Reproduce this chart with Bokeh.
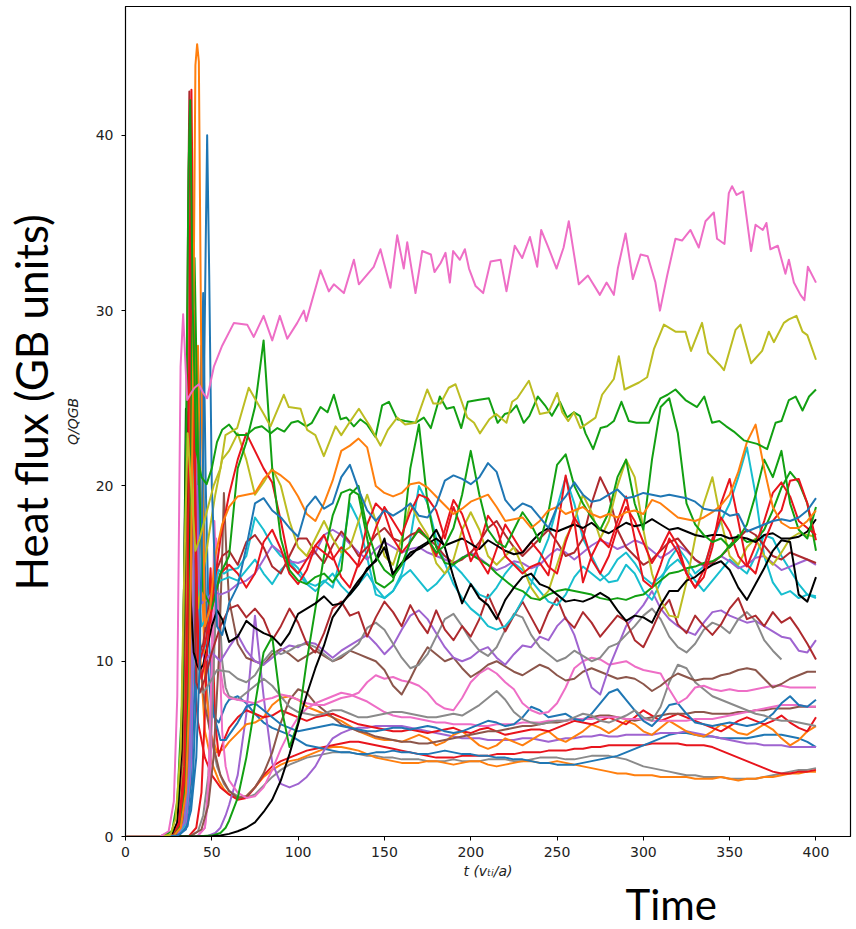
import math
from bokeh.plotting import figure
from bokeh.models import Range1d, FixedTicker, Title
from bokeh.embed import file_html
from bokeh.resources import INLINE

# ---------------- data ----------------
X_TICKS = [0, 50, 100, 150, 200, 250, 300, 350, 400]
Y_TICKS = [0, 10, 20, 30, 40]
LATE_T = list(range(60, 405, 5))   # common sampling of the saturated phase

BLUE = "#1f77b4"; ORANGE = "#ff7f0e"; GREEN = "#12a012"; RED = "#e8141c"
DARKRED = "#ad2a2e"; BROWN = "#8c564b"; PINK = "#ee6ec6"; GRAY = "#8a8a8a"
OLIVE = "#bcbd22"; CYAN = "#17becf"; PURPLE = "#9f64d0"; BLACK = "#000000"

# fully traced series
PINK_TOP_T = [0,20,25,28,30,31.9,33.4,35.7,38,40,
              42.5,45,47.3,51.2,56,62.8,70.5,74.3,80,85,
              89.4,93.7,99.5,103.3,104.7,113,117.8,120.7,126.5,132.3,
              135.2,143.8,147.7,153.5,157.4,161.2,163.2,168,171.9,176.9,
              179,182.5,185.4,187.9,189.8,193.7,196.6,199,202.8,207.2,
              211.5,217.3,220.7,225.5,229.8,234.3,238.5,240.8,245,249.7,
              253.8,256.8,262.6,267.9,274.8,278.7,282.9,285.2,289.7,293.9,
              298.4,302.5,307,309.6,313.8,318.6,322.4,327.3,332.1,336,
              340.8,342.7,347,349.5,351.4,354,357.8,362.4,365,369.2,
              371.3,373.6,377.9,382.3,384.3,387.2,391,393.3,395.3,400]
PINK_TOP_Q = [0,0,0.3,2,8,26.8,29.8,24.9,25.3,25.6,
              25.8,25.3,25.0,26.8,28.0,29.3,29.2,28.5,29.7,28.3,
              29.7,28.4,29.3,30.0,29.4,32.3,31.1,31.5,31.0,32.9,
              31.5,32.5,33.5,31.3,34.3,32.4,33.9,31.0,33.4,33.2,
              32.2,32.7,33.3,31.6,33.4,32.9,33.5,32.4,31.4,31.0,
              32.8,32.9,31.1,33.7,33.0,34.2,32.5,34.6,33.6,32.4,
              33.6,35.1,31.5,32.0,30.9,31.6,30.9,32.4,34.4,31.8,
              33.2,33.1,31.6,30.0,32.0,34.1,34.0,34.6,33.6,35.1,
              35.6,34.1,33.8,36.7,37.1,36.6,36.8,33.4,34.9,34.6,
              35.0,33.5,33.7,32.1,32.9,31.6,30.9,30.6,32.5,31.6]

OLIVE_TOP_T = [0,20,26,29,32,34,36,38,40.5,43,
               47,51,55,57.9,64.7,71.4,80.1,84,91.7,94.6,
               101.4,105.2,110,114.9,121.7,125,130.3,135.2,141.6,147.7,
               152,157.4,162,168,174.8,178.3,182.5,187.3,191.2,198,
               201.9,205.3,210.8,214.7,220.7,224,226.9,233.7,240,245,
               250.1,253,256.5,259.8,263.6,272.3,276.1,282.9,285.8,289.1,
               297.5,302.2,306.1,311.9,318.6,324.4,327.6,334,337.5,344.3,
               346.7,353.4,356.3,362.4,368.8,372.7,375.6,381.4,384.3,388.7,
               392.2,395,400]
OLIVE_TOP_Q = [0,0,0.1,1,5,15,23,20,16.3,17,
               18.5,20,21,22.9,23.3,25.6,24.1,23.4,25.2,24.5,
               24.4,23.2,22.9,21.7,23.4,22.9,23.7,24.4,23.4,22.3,
               23.2,23.9,23.5,23.6,25.5,24.7,24.7,25.6,25.8,23.9,
               23.6,23.0,23.8,24.1,23.6,24.8,25.0,26.0,24.1,24.2,
               25.3,24.2,23.7,24.2,23.3,23.9,25.2,26.1,27.4,25.5,
               25.9,26.2,27.8,29.2,28.8,28.8,27.7,29.3,27.6,26.9,
               26.6,28.9,29.2,27.0,27.7,28.8,28.2,29.3,29.5,29.7,
               28.8,28.6,27.2]

GREEN_TOP_T = [0,20,27,30,33,35,36.5,37.5,39,41,
               44,47,50,53,56,60,64.7,70,75,79,
               84,88,92,96,100,104.7,108,113,117,120.7,
               124.6,128,132.3,136,140,144.8,148.7,152.6,157.4,162,
               168,172.8,176.9,182.1,186,190.2,194.5,198.3,204,210.5,
               215.6,219.7,223,226.5,230.7,234,238.9,243,247,251.6,
               255.8,259.8,263.2,266.5,270.9,275.2,279,282.9,287.3,291.6,
               296,303.2,306,309.9,314,318.6,324.4,331.1,335.3,339.8,
               344,348,352.4,358.2,365.9,371.7,376.6,380,384.3,388.2,
               392.2,396,400]
GREEN_TOP_Q = [0,0,0.3,2,8,22,38,42,30,22,
               20.5,20.1,21,22.5,23.2,23.5,22.9,22.9,23.3,23.4,
               23.0,23.3,23.1,23.6,23.7,23.4,23.6,24.5,24.2,25.2,
               23.8,23.9,23.4,23.8,23.5,22.8,24.6,24.8,23.8,23.7,
               23.6,23.9,23.3,25.1,24.4,24.5,23.3,24.8,24.9,25.0,
               23.6,24.1,24.2,24.6,23.6,24.0,25.1,24.6,24.0,24.8,
               23.9,24.2,24.0,23.0,22.1,23.3,23.4,23.7,24.8,23.7,
               23.6,23.6,24.2,25.0,25.2,25.5,24.9,24.5,25.1,23.6,
               23.7,23.4,23.1,22.6,22.4,22.1,23.6,23.7,24.9,25.1,
               24.3,25.1,25.5]

# series = early transient (t < 60) + saturated phase sampled on LATE_T
BLUE_A_ET = [0,20,30,35,38,41,43,45,46.5,47.3,48.5,50,53,56]
BLUE_A_EQ = [0,0,0.05,0.4,1.5,4.5,10,22,34,40,32,20,12,11.5]
BLUE_A_LQ = [13.3,14.3,16.5,19.0,19.3,18.6,18.2,17.6,17.1,18.8,
             19.4,18.7,19.0,20.5,21.2,19.8,18.6,18.0,18.6,18.3,
             18.6,19.0,18.3,18.2,18.9,20.3,20.6,20.4,20.1,20.5,
             21.3,20.8,19.2,18.6,19.0,18.8,18.2,17.6,18.8,19.4,
             20.2,19.5,19.1,19.2,19.5,19.8,19.3,19.4,19.6,19.5,
             19.4,19.5,19.4,19.3,19.1,18.7,18.6,18.6,18.3,18.4,
             17.4,17.6,17.8,18.0,18.1,18.0,18.2,18.6,19.3]

ORANGE_A_ET = [0,20,28,32,35,37,39,40.5,41.5,42.5,44,46,49,52,56]
ORANGE_A_EQ = [0,0,0.05,0.5,2.5,8,25,44,45.2,44.2,26,12,13,16,17.8]
ORANGE_A_LQ = [18.8,19.4,19.5,19.6,20.4,20.9,20.6,20.2,19.4,18.4,
               18.0,19.0,20.3,22.0,22.3,22.7,22.2,20.0,19.6,19.4,
               19.6,20.1,20.2,19.9,19.4,18.9,18.4,18.7,19.1,19.3,
               19.5,18.8,18.0,18.1,18.2,17.6,18.0,18.6,18.8,18.4,
               18.6,18.8,18.4,18.2,18.4,18.2,18.5,18.6,18.4,19.2,
               19.0,18.6,18.2,18.1,18.0,18.2,18.5,18.9,19.5,20.8,
               22.5,23.5,21.0,18.8,17.9,17.6,17.6,18.0,18.6]

GREEN_B_ET = [0,20,28,32,35,37,38.5,40,42,45,50,55]
GREEN_B_EQ = [0,0,0.05,0.6,3,10,28,33,22,14,13,15]
GREEN_B_LQ = [16.0,21.0,22.5,24.5,28.3,21.0,17.0,15.2,14.6,14.4,
              14.8,15.0,14.5,15.2,19.5,20.0,17.5,16.0,15.2,14.8,
              15.5,16.8,17.5,17.0,16.2,16.6,17.6,19.5,22.0,19.5,
              17.5,16.8,16.5,17.5,18.5,17.8,16.8,18.5,21.2,21.8,
              20.0,19.0,18.2,17.5,18.5,20.5,21.5,19.0,17.5,21.5,
              24.5,25.0,23.0,19.0,17.8,17.2,16.8,17.0,16.5,17.0,
              17.8,19.5,21.5,20.5,22.0,19.0,17.5,17.0,18.8]

GREEN_C_ET = [0,40,50,55,58]
GREEN_C_EQ = [0,0,0.05,0.2,0.5]
GREEN_C_LQ = [0.9,2.2,4.5,7.5,10.5,11.4,7.5,5.1,6.5,10.0,
              13.0,16.0,18.3,19.6,19.8,19.5,17.0,14.5,14.2,14.6,
              16.5,21.0,23.5,19.0,16.5,15.6,15.5,15.9,16.1,15.8,
              15.5,15.0,14.6,14.2,14.0,13.6,13.5,13.8,14.0,14.1,
              14.0,13.9,13.8,13.6,13.5,13.6,13.5,13.7,13.8,14.2,
              14.6,15.0,15.1,15.3,15.4,15.6,15.7,16.0,16.6,17.2,
              16.8,16.9,17.5,18.6,19.9,20.8,20.2,19.0,16.3]

RED_A_ET = [0,20,28,31,34,36,37.3,38.2,39,40.5,42,44,47,51,55]
RED_A_EQ = [0,0,0.1,0.8,4,14,34,42.6,35,18,10,9,10.5,14,17]
RED_A_LQ = [19.5,21.5,23.0,22.0,21.0,20.2,18.0,15.5,15.0,15.8,
            16.6,16.2,15.8,16.5,16.0,15.4,16.2,17.6,18.8,18.0,
            17.2,18.5,19.5,19.3,18.6,17.0,18.8,17.5,15.7,16.6,
            18.3,17.6,16.0,15.5,15.0,15.4,15.6,14.9,17.5,20.6,
            18.0,14.5,16.0,17.0,16.5,18.0,19.4,17.0,14.6,14.2,
            15.5,17.0,16.2,15.0,14.2,14.8,16.5,19.0,20.4,18.0,
            15.5,15.0,16.8,18.0,18.6,20.3,20.4,19.0,16.9]

RED_B_ET = [0,20,29,32,35,37,38.5,40,41.5,43,46,50,55]
RED_B_EQ = [0,0,0.1,0.8,4,13,30,22,13,10,11,13,15]
RED_B_LQ = [15.5,15.0,14.2,15.0,16.8,17.5,16.4,15.0,14.4,15.2,
            16.6,17.2,16.0,14.8,14.2,15.6,17.8,19.0,18.5,17.0,
            16.2,16.8,17.6,17.0,16.0,17.5,19.2,18.4,17.0,15.8,
            15.0,16.4,17.8,17.0,16.2,16.8,16.2,15.4,15.0,16.8,
            18.2,17.4,15.8,15.0,16.0,17.6,18.8,18.0,16.8,15.6,
            16.4,17.4,16.6,15.0,14.2,15.2,17.0,18.2,17.4,16.0,
            15.4,16.6,18.0,19.6,20.2,19.4,18.0,17.6,17.2]

DARKRED_A_ET = [0,20,27,30,33,35,36.3,37,38,39.5,41,43,46,50,55]
DARKRED_A_EQ = [0,0,0.1,0.8,4,15,36,42.5,33,16,8.8,8.2,9,10.5,12]
DARKRED_A_LQ = [13.0,13.2,12.5,13.0,12.4,11.2,12.0,13.0,12.2,11.0,
                10.5,11.6,13.0,13.4,12.6,12.8,11.4,12.5,13.4,12.8,
                12.0,13.2,12.3,11.6,12.9,11.8,11.2,12.0,11.4,12.4,
                13.8,12.7,11.7,12.6,13.4,12.5,11.6,12.8,13.6,12.4,
                11.9,12.8,12.2,11.4,12.0,12.6,12.3,11.2,10.8,11.8,
                12.9,13.5,12.1,11.6,12.6,12.0,11.5,12.1,13.0,13.6,
                12.4,12.6,12.0,12.8,12.2,12.5,11.8,11.0,10.1]

DARKRED_B_ET = [0,20,28,31,34,36.5,38,39.5,41,43,45,48,52,56]
DARKRED_B_EQ = [0,0,0.1,0.7,3.5,14,33,24,12,10.5,11,13,15,16]
DARKRED_B_LQ = [16.3,15.5,16.8,17.2,16.5,15.4,15.0,16.0,17.0,17.0,
                16.2,15.6,16.6,17.4,16.8,16.0,16.5,17.2,17.6,17.0,
                16.8,17.2,17.4,17.0,16.6,16.0,15.6,15.8,16.2,16.8,
                17.6,18.0,17.2,16.5,16.0,16.5,17.0,17.5,16.8,16.0,
                16.2,17.0,19.0,20.5,19.5,17.5,16.5,16.0,15.5,15.8,
                16.3,16.8,17.0,16.4,15.8,15.5,15.6,16.0,16.5,17.0,
                17.5,17.2,16.6,16.0,15.8,16.2,16.0,15.8,15.6]

CYAN_A_ET = [0,20,28,32,35,37,38.5,40,42,44,47,50,54,57]
CYAN_A_EQ = [0,0,0.05,0.5,3,10,24,19,12,10.5,11,13.5,15.2,15.0]
CYAN_A_LQ = [15.2,15.3,16.0,18.2,17.5,16.6,16.0,15.8,15.3,14.5,
             14.3,14.6,14.2,16.0,19.0,18.0,15.9,13.8,13.6,14.0,
             15.0,17.0,20.0,19.0,17.0,15.6,14.4,13.6,13.0,12.6,
             12.0,11.8,12.0,12.6,13.5,14.4,15.8,17.0,18.8,20.5,
             19.0,17.0,16.0,15.0,14.5,14.6,15.5,15.0,14.0,13.5,
             14.5,15.8,16.5,15.8,15.0,15.4,16.8,18.0,19.0,20.5,
             22.2,19.5,16.0,14.5,13.8,14.0,13.6,13.8,13.7]

CYAN_B_ET = [0,20,30,34,37,39,40.5,42,44,47,51,55]
CYAN_B_EQ = [0,0,0.05,0.6,3.5,11,20,14,12,12.5,14,14.6]
CYAN_B_LQ = [14.8,14.6,15.2,15.8,15.0,14.4,15.2,15.7,15.0,14.4,
             14.0,14.5,15.0,14.3,13.8,14.4,15.0,14.2,13.6,14.0,
             14.8,15.2,14.6,14.0,14.4,15.0,15.5,15.0,14.4,13.8,
             13.6,14.2,15.0,15.6,15.2,14.6,14.0,13.4,13.2,13.8,
             14.8,15.4,15.0,14.6,15.0,15.8,16.2,15.6,14.8,14.4,
             14.8,15.4,15.8,15.2,14.6,14.0,14.6,15.2,15.8,15.4,
             15.0,16.0,17.2,17.0,16.0,15.2,14.4,13.8,13.6]

OLIVE_B_ET = [0,20,28,31,34,35.5,37,39,42,45,48,52,56]
OLIVE_B_EQ = [0,0,0.1,0.9,4.5,12,26,20,13,15,17,19.5,21.5]
OLIVE_B_LQ = [22.0,23.0,21.5,19.5,20.2,21.0,20.0,18.0,16.5,16.0,
              17.0,18.0,17.0,16.2,16.5,18.0,19.5,18.0,16.0,15.5,
              17.0,19.0,18.0,17.2,15.6,15.0,15.8,17.5,18.5,17.5,
              16.0,15.5,16.0,16.5,15.4,14.2,13.5,14.0,15.5,17.0,
              18.0,19.5,18.5,17.0,18.0,20.0,21.5,20.5,17.5,15.0,
              13.5,12.6,12.5,14.5,17.0,19.0,20.5,18.0,16.0,15.5,
              16.5,17.0,16.0,15.5,16.2,17.0,17.3,17.2,17.1]

PURPLE_A_ET = [0,20,30,34,37,39,40.5,42,44,47,51,55]
PURPLE_A_EQ = [0,0,0.05,0.8,4,12,22,15,13.3,13.5,14.0,13.8]
PURPLE_A_LQ = [14.0,14.4,14.6,15.0,15.8,16.6,16.2,15.7,15.6,15.8,
               16.2,17.2,17.5,17.2,16.7,16.2,15.8,16.4,16.8,16.5,
               16.2,16.4,16.5,16.2,16.0,15.8,15.6,15.9,16.2,15.9,
               15.5,15.2,15.4,15.7,15.6,15.3,15.5,16.0,16.4,16.2,
               15.8,16.2,16.6,16.9,16.7,16.4,16.6,16.9,16.7,16.3,
               15.9,16.2,16.6,16.3,15.8,15.4,15.6,16.0,15.7,15.3,
               15.5,15.9,16.0,15.6,15.2,15.4,15.6,15.8,15.5]

PURPLE_B_ET = [0,40,48,52,55,58]
PURPLE_B_EQ = [0,0,0.05,0.2,0.5,1.2]
PURPLE_B_LQ = [1.8,3.5,7.0,12.6,8.0,4.2,3.0,2.8,3.0,3.4,
               4.0,4.9,5.6,5.9,6.1,6.2,6.2,6.3,6.3,6.3,
               6.3,6.2,6.1,6.0,5.9,5.8,5.7,5.6,5.6,5.6,
               5.5,5.5,5.5,5.5,5.6,5.6,5.5,5.4,5.5,5.6,
               5.6,5.7,5.7,5.8,5.7,5.7,5.8,5.8,5.8,5.8,
               5.9,5.9,5.9,6.0,5.9,5.8,5.7,5.6,5.5,5.4,
               5.3,5.3,5.2,5.2,5.2,5.1,5.1,5.1,5.1]

PURPLE_C_ET = [0,20,30,35,38,40,41.5,43,46,50,55]
PURPLE_C_EQ = [0,0,0.05,0.7,4,14,20,11,10,10.5,10.0]
PURPLE_C_LQ = [10.8,11.5,10.6,10.0,9.8,10.2,10.6,10.9,10.8,11.1,
               11.0,10.6,10.2,10.6,10.9,11.2,11.5,11.0,10.4,10.9,
               11.8,12.6,12.9,12.4,11.6,10.8,10.2,10.0,10.2,10.6,
               10.8,10.2,9.8,10.4,10.9,10.8,11.4,11.2,12.0,12.5,
               11.5,10.0,8.5,8.1,9.6,10.8,12.0,12.6,13.2,14.0,
               13.0,12.4,12.0,11.7,11.5,12.2,12.8,12.9,12.6,12.4,
               12.2,12.3,12.0,11.7,11.4,11.3,10.6,10.5,11.2]

BROWN_A_ET = [0,30,38,44,48,51,54,56,57,58.5]
BROWN_A_EQ = [0,0,0.05,0.4,1.8,4.5,10,16,19.6,16]
BROWN_A_LQ = [13.5,11.0,10.2,10.0,9.8,10.4,10.7,10.4,10.0,10.3,
              10.6,10.3,10.0,10.2,10.6,10.4,10.2,10.0,9.5,8.6,
              8.1,9.0,10.0,10.8,10.4,10.0,10.2,9.6,9.1,9.4,
              9.8,10.0,9.7,9.4,9.2,9.5,9.8,9.6,9.2,8.9,
              9.0,9.4,9.6,9.4,9.2,9.0,9.1,9.0,8.7,8.3,
              8.6,9.0,9.3,9.1,8.9,9.0,9.0,9.2,9.3,9.5,
              9.6,9.5,9.0,8.5,8.7,9.0,9.2,9.4,9.4]

BROWN_B_ET = [0,20,29,33,36,38,39.5,41,43,46,50,55]
BROWN_B_EQ = [0,0,0.05,0.6,3.5,12,28,18,10,7.5,5.5,3.5]
BROWN_B_LQ = [2.6,2.2,2.3,2.8,3.6,4.8,6.5,7.8,8.4,8.2,
              7.6,7.2,6.8,6.4,6.2,6.0,5.9,5.7,5.6,5.5,
              5.4,5.4,5.3,5.3,5.4,5.5,5.6,5.7,5.8,5.9,
              6.0,6.0,6.1,6.2,6.3,6.3,6.4,6.5,6.5,6.6,
              6.7,6.7,6.8,6.9,6.9,6.8,6.7,6.6,6.7,6.8,
              6.9,7.0,7.0,7.0,7.1,7.1,7.0,7.0,7.0,7.1,
              7.1,7.2,7.2,7.3,7.3,7.3,7.4,7.4,7.4]

GRAY_A_ET = [0,20,28,32,35,36.7,37.5,38.5,40,42,45,49,53]
GRAY_A_EQ = [0,0,0.1,0.9,5,18,29.6,22,12,8.5,8.2,8.8,9.5]
GRAY_A_LQ = [9.4,9.0,8.8,9.2,10.0,10.6,10.4,10.6,10.9,11.0,
             10.8,10.4,10.0,10.3,10.6,11.0,11.9,12.2,11.8,11.0,
             10.2,9.6,9.8,10.4,11.4,12.4,12.7,12.0,11.2,10.6,
             10.3,10.8,11.8,12.7,12.5,11.5,10.8,10.4,10.0,10.2,
             10.6,10.3,10.0,10.2,10.8,11.0,11.5,12.0,12.6,13.0,
             12.4,11.4,10.8,10.5,11.0,11.8,12.2,12.0,11.6,12.4,
             12.8,12.3,11.2,10.6,10.1]

GRAY_B_ET = [0,30,38,42,45,48,50,52,53,54.5,56,58]
GRAY_B_EQ = [0,0,0.05,0.3,1.2,3.5,7,12,15,13,10,8.5]
GRAY_B_LQ = [8.0,7.8,8.2,8.6,9.0,8.6,8.0,7.4,7.1,7.0,
             6.9,7.0,7.2,7.2,7.0,6.8,6.8,6.9,7.0,7.1,
             7.1,7.0,6.9,6.8,6.8,6.9,7.0,6.9,7.2,7.5,
             7.9,8.3,7.8,7.1,6.7,6.5,6.4,6.5,6.6,6.6,
             6.8,7.0,6.9,6.6,6.5,6.7,6.9,7.2,6.8,6.6,
             7.4,8.8,9.8,9.6,8.8,8.4,8.0,7.8,7.6,7.4,
             7.2,7.0,6.9,6.7,6.6,6.6,6.5,6.4,6.3]

GRAY_C_ET = [0,20,30,34,37,39,41,42.5,44,46,49,53,57]
GRAY_C_EQ = [0,0,0.05,0.6,3,10,20,25,18,10,6,4,3]
GRAY_C_LQ = [2.6,2.3,2.2,2.4,2.9,3.4,3.8,4.1,4.3,4.5,
             4.6,4.7,4.8,4.8,4.8,4.7,4.6,4.6,4.5,4.5,
             4.4,4.4,4.4,4.3,4.3,4.3,4.4,4.3,4.3,4.3,
             4.4,4.4,4.4,4.3,4.3,4.4,4.5,4.5,4.5,4.4,
             4.4,4.5,4.6,4.6,4.6,4.5,4.4,4.2,4.0,3.9,
             3.8,3.7,3.6,3.5,3.5,3.4,3.4,3.4,3.3,3.3,
             3.3,3.3,3.4,3.5,3.6,3.7,3.8,3.8,3.9]

ORANGE_LOW_ET = [0,20,28,32,35,37,38.5,40,41.5,43.5,46,50,54,57]
ORANGE_LOW_EQ = [0,0,0.05,0.5,3,11,24,30,20,10,6,4.2,3.2,2.7]
ORANGE_LOW_LQ = [2.4,2.2,2.3,2.8,3.4,3.8,4.1,4.3,4.4,4.6,
                 4.8,5.0,5.1,5.1,5.0,4.9,4.7,4.5,4.4,4.3,
                 4.2,4.2,4.2,4.3,4.3,4.2,4.1,4.2,4.3,4.3,
                 4.1,4.0,4.1,4.2,4.3,4.3,4.2,4.2,4.3,4.2,
                 4.1,4.0,3.9,3.8,3.7,3.6,3.6,3.5,3.5,3.5,
                 3.4,3.4,3.4,3.4,3.3,3.3,3.3,3.4,3.3,3.2,
                 3.3,3.3,3.4,3.4,3.5,3.6,3.6,3.7,3.7]

RED_LOW_ET = [0,20,27,31,33.5,35,36,37,39,42,46,50,55]
RED_LOW_EQ = [0,0,0.05,0.8,5,15,24.2,18,10,6.5,4.5,3.5,2.8]
RED_LOW_LQ = [2.4,2.1,2.2,2.8,3.5,4.0,4.3,4.5,4.7,4.9,
              5.0,5.1,5.2,5.3,5.4,5.4,5.3,5.2,5.1,5.0,
              4.9,4.8,4.7,4.6,4.5,4.5,4.5,4.6,4.6,4.6,
              4.6,4.7,4.7,4.7,4.8,4.8,4.8,4.9,4.9,4.9,
              5.0,5.0,5.1,5.1,5.2,5.2,5.2,5.2,5.2,5.3,
              5.3,5.3,5.3,5.2,5.2,5.2,5.1,4.9,4.7,4.5,
              4.3,4.1,3.9,3.7,3.6,3.6,3.7,3.7,3.8]

BLUE_LOW_ET = [0,20,30,35,38,40.5,42.5,44,45.5,47.5,50,54,58]
BLUE_LOW_EQ = [0,0,0.05,0.6,3,10,22,28,18,10,7,6.5,7.5]
BLUE_LOW_LQ = [7.8,8.0,7.6,7.0,6.5,6.2,6.0,5.8,5.5,5.2,
               5.1,5.0,4.9,4.8,4.8,4.7,4.7,4.8,4.8,4.9,
               4.8,4.8,4.7,4.7,4.8,4.9,4.8,4.7,4.7,4.6,
               4.6,4.5,4.5,4.4,4.4,4.3,4.2,4.2,4.1,4.1,
               4.1,4.2,4.3,4.4,4.5,4.6,4.8,5.0,5.2,5.4,
               5.6,5.8,5.9,5.9,5.8,5.7,5.7,5.6,5.6,5.6,
               5.6,5.7,5.8,5.8,5.8,5.7,5.6,5.4,5.1]

BLUE_MID_ET = [0,20,31,36,39,41.5,43.5,45,46.5,48.5,51,55,58]
BLUE_MID_EQ = [0,0,0.05,0.6,3,10,23,31,20,11,7,5.5,5.5]
BLUE_MID_LQ = [5.8,6.5,7.4,7.6,7.2,6.8,6.4,6.2,6.0,6.1,
               6.2,6.3,6.4,6.3,6.2,6.1,6.0,6.0,6.1,6.2,
               6.2,6.1,6.2,6.3,6.2,6.0,5.9,6.0,6.2,6.4,
               6.6,6.5,6.3,6.4,6.8,7.4,7.2,6.8,6.9,7.0,
               6.7,6.6,7.0,7.6,8.2,8.4,7.8,7.2,6.6,6.3,
               6.8,7.5,7.6,7.0,6.5,6.4,6.3,6.4,6.5,6.4,
               6.3,6.4,6.6,7.0,7.6,8.0,7.5,7.4,7.8]

RED_MID_ET = [0,30,37,41,44,46,48,49.3,50.5,52,54,57]
RED_MID_EQ = [0,0,0.05,0.5,2.5,7,13,15.3,11,6.5,4.6,5.5]
RED_MID_LQ = [6.2,6.8,7.2,7.0,6.8,6.9,7.2,7.0,6.8,6.6,
              6.8,6.9,7.0,6.8,6.6,6.4,6.3,6.2,6.1,6.0,
              6.0,6.1,6.0,5.9,6.0,6.1,6.2,6.0,5.9,6.1,
              6.2,6.0,5.8,5.9,6.0,6.1,6.1,6.0,6.2,6.4,
              6.6,6.5,6.4,6.6,6.8,6.6,6.4,6.8,7.2,6.9,
              6.6,6.8,7.0,6.8,6.6,6.4,6.2,6.0,6.3,6.6,
              6.8,6.6,6.4,6.6,6.9,6.5,6.2,6.0,6.8]

ORANGE_MID_ET = [0,20,30,34,37,39,40.5,42,43.5,46,49,53,57]
ORANGE_MID_EQ = [0,0,0.05,0.6,3,10,20,28,18,9,6,4.8,5.0]
ORANGE_MID_LQ = [5.4,5.9,6.4,6.5,6.8,7.5,7.9,8.0,7.8,7.4,
                 7.2,7.0,6.8,6.6,6.3,6.0,5.8,5.6,5.5,5.5,
                 5.4,5.6,5.8,5.6,5.2,5.4,5.8,6.0,5.6,5.2,
                 5.0,5.2,5.6,5.4,5.2,5.5,5.8,6.0,5.6,5.4,
                 5.7,6.0,6.4,6.2,5.9,6.2,6.6,6.4,6.0,5.8,
                 6.2,6.6,6.3,6.0,5.8,5.7,6.0,6.4,6.2,5.9,
                 5.8,6.1,6.4,6.1,5.6,5.2,5.5,6.0,6.3]

PINK_MID_ET = [0,35,42,46,48,50,51.5,53,55,57]
PINK_MID_EQ = [0,0,0.05,0.5,3,10,18,14,9.5,8.2]
PINK_MID_LQ = [7.9,7.8,7.7,7.6,7.8,7.9,8.1,8.0,7.8,7.6,
               7.5,7.5,7.7,7.9,8.0,8.2,8.8,9.2,9.0,9.1,
               8.9,8.8,8.6,8.2,7.6,7.3,7.2,7.9,8.8,9.3,
               9.6,9.3,8.8,8.4,7.6,7.2,7.0,7.1,7.6,8.5,
               9.6,10.0,10.2,10.1,9.8,9.9,10.0,9.7,9.5,9.4,
               9.3,8.4,7.6,7.9,8.5,8.6,8.4,8.3,8.4,8.3,
               8.3,8.4,8.5,8.6,8.6,8.5,8.5,8.5,8.5]

PINK_LOW_ET = [0,35,42,46,49,51,52.5,54,56,58]
PINK_LOW_EQ = [0,0,0.05,0.5,3,10,17,12,6,4]
PINK_LOW_LQ = [3.2,2.5,2.2,2.3,2.8,3.8,5.0,6.0,6.8,7.3,
               7.6,7.8,8.0,8.2,8.1,7.9,7.7,7.4,7.1,6.9,
               6.8,6.8,6.7,6.6,6.5,6.5,6.4,6.4,6.4,6.3,
               6.3,6.4,6.4,6.4,6.5,6.5,6.5,6.6,6.6,6.6,
               6.7,6.7,6.7,6.8,6.8,6.8,6.7,6.7,6.7,6.6,
               6.6,6.6,6.6,6.6,6.7,6.7,6.7,6.8,6.9,7.0,
               7.1,7.2,7.3,7.4,7.5,7.5,7.5,7.4,7.4]

BLACK_A_ET = [0,20,27,30,32.5,34,35,36,37.5,39.5,41.5,43,45,47.3,50,53.1,56]
BLACK_A_EQ = [0,0,0.1,0.8,5,15,24.4,20,14,10.5,9.8,9.5,9.8,10.8,12.0,12.9,12.4]
BLACK_A_LQ = [11.1,11.4,12.3,11.9,11.6,11.4,10.9,11.6,12.7,13.0,
              13.3,13.7,13.2,13.3,13.8,14.4,15.3,15.7,16.5,15.0,
              15.6,16.0,16.5,16.8,17.5,16.5,14.8,13.3,14.4,13.6,
              13.2,12.4,13.5,14.2,14.8,15.0,14.4,14.2,13.8,13.4,
              13.5,13.4,13.6,13.9,13.6,12.9,12.3,12.6,12.5,12.2,
              13.2,14.0,14.0,14.6,14.8,15.2,15.5,15.7,15.2,14.2,
              13.5,14.4,15.3,16.3,16.9,16.8,13.8,13.4,14.8]

BLACK_B_ET = [0,40,50,55]
BLACK_B_EQ = [0,0,0.02,0.06]
BLACK_B_LQ = [0.15,0.3,0.5,0.8,1.4,2.1,3.2,4.7,6.4,8.1,
              9.6,10.9,12.5,13.2,13.9,14.6,15.2,15.8,17.0,14.8,
              15.6,16.2,16.4,16.7,17.0,16.6,16.8,17.0,16.7,16.4,
              16.9,16.6,16.3,16.1,16.2,16.8,17.3,17.6,17.4,17.6,
              17.8,17.6,17.9,17.5,17.3,17.6,17.9,17.7,17.8,18.1,
              17.8,17.5,17.6,17.4,17.2,17.1,17.2,17.2,17.0,17.1,
              17.0,16.8,17.2,17.3,17.0,17.0,17.1,17.4,18.1]

# ---------------- assemble ----------------
def series(et, eq, lq):
    n = min(len(lq), len(LATE_T))
    return list(et) + LATE_T[:n], list(eq) + list(lq[:n])

SERIES = [
    (GRAY_C_ET, GRAY_C_EQ, GRAY_C_LQ, GRAY),
    (ORANGE_LOW_ET, ORANGE_LOW_EQ, ORANGE_LOW_LQ, ORANGE),
    (RED_LOW_ET, RED_LOW_EQ, RED_LOW_LQ, RED),
    (BLUE_LOW_ET, BLUE_LOW_EQ, BLUE_LOW_LQ, BLUE),
    (PURPLE_B_ET, PURPLE_B_EQ, PURPLE_B_LQ, PURPLE),
    (ORANGE_MID_ET, ORANGE_MID_EQ, ORANGE_MID_LQ, ORANGE),
    (RED_MID_ET, RED_MID_EQ, RED_MID_LQ, RED),
    (BROWN_B_ET, BROWN_B_EQ, BROWN_B_LQ, BROWN),
    (PINK_LOW_ET, PINK_LOW_EQ, PINK_LOW_LQ, PINK),
    (BLUE_MID_ET, BLUE_MID_EQ, BLUE_MID_LQ, BLUE),
    (GRAY_B_ET, GRAY_B_EQ, GRAY_B_LQ, GRAY),
    (PINK_MID_ET, PINK_MID_EQ, PINK_MID_LQ, PINK),
    (BROWN_A_ET, BROWN_A_EQ, BROWN_A_LQ, BROWN),
    (PURPLE_C_ET, PURPLE_C_EQ, PURPLE_C_LQ, PURPLE),
    (GRAY_A_ET, GRAY_A_EQ, GRAY_A_LQ, GRAY),
    (DARKRED_A_ET, DARKRED_A_EQ, DARKRED_A_LQ, DARKRED),
    (CYAN_B_ET, CYAN_B_EQ, CYAN_B_LQ, CYAN),
    (CYAN_A_ET, CYAN_A_EQ, CYAN_A_LQ, CYAN),
    (PURPLE_A_ET, PURPLE_A_EQ, PURPLE_A_LQ, PURPLE),
    (DARKRED_B_ET, DARKRED_B_EQ, DARKRED_B_LQ, DARKRED),
    (OLIVE_B_ET, OLIVE_B_EQ, OLIVE_B_LQ, OLIVE),
    (GREEN_C_ET, GREEN_C_EQ, GREEN_C_LQ, GREEN),
    (RED_B_ET, RED_B_EQ, RED_B_LQ, RED),
    (BLACK_B_ET, BLACK_B_EQ, BLACK_B_LQ, BLACK),
    (BLACK_A_ET, BLACK_A_EQ, BLACK_A_LQ, BLACK),
    (RED_A_ET, RED_A_EQ, RED_A_LQ, RED),
    (GREEN_B_ET, GREEN_B_EQ, GREEN_B_LQ, GREEN),
    (ORANGE_A_ET, ORANGE_A_EQ, ORANGE_A_LQ, ORANGE),
    (BLUE_A_ET, BLUE_A_EQ, BLUE_A_LQ, BLUE),
]
FULL = [
    (GREEN_TOP_T, GREEN_TOP_Q, GREEN),
    (OLIVE_TOP_T, OLIVE_TOP_Q, OLIVE),
    (PINK_TOP_T, PINK_TOP_Q, PINK),
]

p = figure(width=856, height=929, x_range=Range1d(0, 420), y_range=Range1d(0, 47.35),
           output_backend="svg", toolbar_location=None,
           min_border_left=125, min_border_right=6, min_border_top=6, min_border_bottom=93)
p.background_fill_color = "white"
p.border_fill_color = "white"
p.xgrid.visible = False
p.ygrid.visible = False
p.outline_line_color = "black"
p.outline_line_width = 1.2
p.outline_line_alpha = 1.0

for ax, ticks in ((p.xaxis, X_TICKS), (p.yaxis, Y_TICKS)):
    ax.ticker = FixedTicker(ticks=ticks)
    ax.minor_tick_line_color = None
    ax.major_tick_in = 0
    ax.major_tick_out = 4
    ax.major_tick_line_color = "black"
    ax.axis_line_color = "black"
    ax.major_label_text_font = "DejaVu Sans"
    ax.major_label_text_font_size = "14px"
    ax.major_label_text_color = "#222222"
    ax.axis_label_text_font = "DejaVu Sans"
    ax.axis_label_text_font_style = "italic"
    ax.axis_label_text_font_size = "14px"
    ax.axis_label_text_color = "#222222"
p.xaxis.major_label_standoff = 6
p.yaxis.major_label_standoff = 8
p.xaxis.axis_label = "t (v\u209c\u1d62/a)"
p.xaxis.axis_label_standoff = 3
p.yaxis.axis_label = "Q/QGB"
p.yaxis.axis_label_standoff = 12

for et, eq, lq, col in SERIES:
    t, q = series(et, eq, lq)
    p.line(t, q, line_color=col, line_width=2, line_join="round")
for t, q, col in FULL:
    n = min(len(t), len(q))
    p.line(t[:n], q[:n], line_color=col, line_width=2, line_join="round")

# large annotation texts in the margins
p.add_layout(Title(text="Heat flux (GB units)", text_font="Lato", text_font_size="44px",
                   text_font_style="normal", text_color="black",
                   align="left", vertical_align="top", offset=246, standoff=6), "left")
p.add_layout(Title(text="Time", text_font="Lato", text_font_size="42px",
                   text_font_style="normal", text_color="black",
                   align="left", vertical_align="top", offset=500, standoff=-5), "below")

open("out.html", "w").write(file_html(p, INLINE))
